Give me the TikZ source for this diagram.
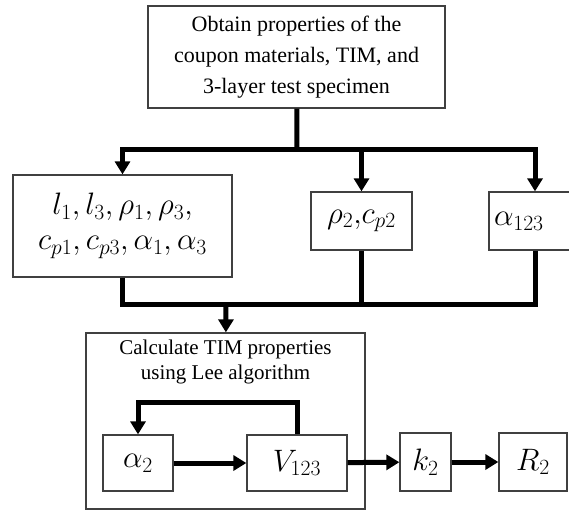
\RequirePackage{fix-cm}
\documentclass[tikz,border=0pt]{standalone}
\usepackage{fontspec}
\setmainfont{Liberation Serif}
\usetikzlibrary{arrows.meta}

\tikzset{
  box/.style={draw=black!75, line width=1.3pt, inner sep=0pt, align=center},
  bigmath/.style={font=\fontsize{31}{35}\selectfont},
  wire/.style={line width=5pt},
  flow/.style={line width=5pt, -{Triangle[length=13pt,width=15pt]}},
}

\begin{document}
\begin{tikzpicture}[x=1pt, y=-1pt]
    \useasboundingbox (0,0) rectangle (569,512);
    % inputs
    \node[box, minimum width=297pt, minimum height=102pt, font=\fontsize{22}{31}\selectfont] (obtain) at (296.5,57)
        {Obtain properties of the\\coupon materials, TIM, and\\3-layer test specimen};
    \node[box, bigmath, minimum width=219pt, minimum height=102pt] (known) at (122.5,226)
        {$l_1, l_3, \rho_1, \rho_3,$\\$c_{p1}, c_{p3}, \alpha_1, \alpha_3$};
    \node[box, bigmath, minimum width=101pt, minimum height=58pt] (tim) at (361.5,221) {$\rho_2,\!c_{p2}$};
    \node[box, bigmath, minimum width=92pt, minimum height=58pt, text width=82pt, align=left] (diff) at (535,221) {$\alpha_{123}$};
    % Lee algorithm
    \node[box, minimum width=279pt, minimum height=176pt] (calc) at (225.5,421) {};
    \node[inner sep=0pt, align=center, anchor=north, font=\fontsize{21}{25}\selectfont] (title) at (225.5,340)
        {Calculate TIM properties\\using Lee algorithm};
    \node[box, bigmath, minimum width=70pt, minimum height=56pt] (a2) at (138,463) {$\alpha_2$};
    \node[box, bigmath, minimum width=100pt, minimum height=56pt] (v123) at (297,463) {$V_{123}$};
    \node[box, bigmath, minimum width=51pt, minimum height=58pt] (k2) at (425.5,462) {$k_2$};
    \node[box, bigmath, minimum width=68pt, minimum height=58pt] (r2) at (533,462) {$R_2$};
    \coordinate (split) at (297,149);
    \coordinate (join) at (226,304);
    \coordinate (loop) at (297,402);
    % connectors
    \draw[wire] (obtain) -- (split);
    \draw[flow] (split) -| (known);
    \draw[flow] (split) -| (tim);
    \draw[flow] (split) -| (diff);
    \draw[wire] (known) |- (join);
    \draw[wire] (tim) |- (join);
    \draw[wire] (diff) |- (join);
    \draw[flow] (join) -- (calc);
    \draw[flow] (a2) -- (v123);
    \draw[flow] (v123) -- (loop) -| (a2);
    \draw[flow] (v123) -- (k2);
    \draw[flow] (k2) -- (r2);
\end{tikzpicture}
\end{document}
